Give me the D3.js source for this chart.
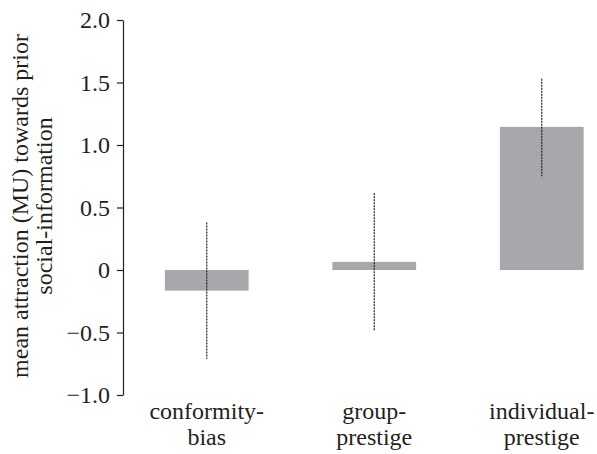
<!DOCTYPE html>
<html>
<head>
<meta charset="utf-8">
<script src="https://cdn.jsdelivr.net/npm/d3@7"></script>
<style>
  html, body { margin: 0; padding: 0; background: #fff; }
  svg { display: block; }
</style>
</head>
<body>
<svg id="chart" width="597" height="454"></svg>
<script>
// Mean attraction towards prior social information per learning strategy
const categories = [["conformity-", "bias"], ["group-", "prestige"], ["individual-", "prestige"]];
const means = [-0.165, 0.065, 1.145];
const errLow = [-0.71, -0.49, 0.75];
const errHigh = [0.38, 0.615, 1.53];
const yTicks = [-1.0, -0.5, 0, 0.5, 1.0, 1.5, 2.0];
const yTickLabels = ["\u22121.0", "\u22120.5", "0", "0.5", "1.0", "1.5", "2.0"];
const yTitle = ["mean attraction (MU) towards prior", "social-information"];

const FONT = "Liberation Serif";
const INK = "#231f20";

const svg = d3.select("#chart");
const axisX = 123;

const y = d3.scaleLinear().domain([-1, 2]).range([395, 20]);
const x = d3.scaleBand()
  .domain(d3.range(categories.length))
  .range([axisX, 625.5])
  .paddingInner(0.5)
  .paddingOuter(0.25);

// bars
svg.append("g").selectAll("rect")
  .data(means)
  .join("rect")
  .attr("x", (d, i) => x(i))
  .attr("width", x.bandwidth())
  .attr("y", d => y(Math.max(0, d)))
  .attr("height", d => Math.abs(y(d) - y(0)))
  .attr("fill", "#a7a8ab");

// dashed error bars
svg.append("g").selectAll("line")
  .data(means)
  .join("line")
  .attr("x1", (d, i) => x(i) + x.bandwidth() / 2)
  .attr("x2", (d, i) => x(i) + x.bandwidth() / 2)
  .attr("y1", (d, i) => y(errHigh[i]))
  .attr("y2", (d, i) => y(errLow[i]))
  .attr("stroke", INK)
  .attr("stroke-width", 1.2)
  .attr("stroke-dasharray", "2,1");

// y axis
const yAxis = d3.axisLeft(y)
  .tickValues(yTicks)
  .tickFormat((d, i) => yTickLabels[i])
  .tickSizeInner(6)
  .tickSizeOuter(0)
  .tickPadding(7);

const gY = svg.append("g")
  .attr("transform", `translate(${axisX},0)`)
  .call(yAxis)
  .attr("font-family", FONT)
  .attr("font-size", 24);
gY.select(".domain").attr("stroke", INK).attr("stroke-width", 1.2);
gY.selectAll(".tick line").attr("stroke", INK).attr("stroke-width", 1.2);
gY.selectAll(".tick text")
  .style("font-family", FONT)
  .style("font-size", "24px")
  .attr("fill", INK);

// category labels
const catG = svg.append("g").selectAll("text")
  .data(categories)
  .join("text")
  .attr("text-anchor", "middle")
  .style("font-family", FONT)
  .style("font-size", "24px")
  .attr("fill", INK)
  .attr("transform", (d, i) => `translate(${x(i) + x.bandwidth() / 2},0)`);
catG.append("tspan").attr("x", 0).attr("y", 419).text(d => d[0]);
catG.append("tspan").attr("x", 0).attr("y", 445).text(d => d[1]);

// y axis title
const title = svg.append("text")
  .attr("text-anchor", "middle")
  .style("font-family", FONT)
  .style("font-size", "24px")
  .attr("fill", INK)
  .attr("transform", "translate(0,206) rotate(-90)");
title.append("tspan").attr("x", 0).attr("y", 28).text(yTitle[0]);
title.append("tspan").attr("x", 0).attr("y", 52).text(yTitle[1]);
</script>
</body>
</html>
